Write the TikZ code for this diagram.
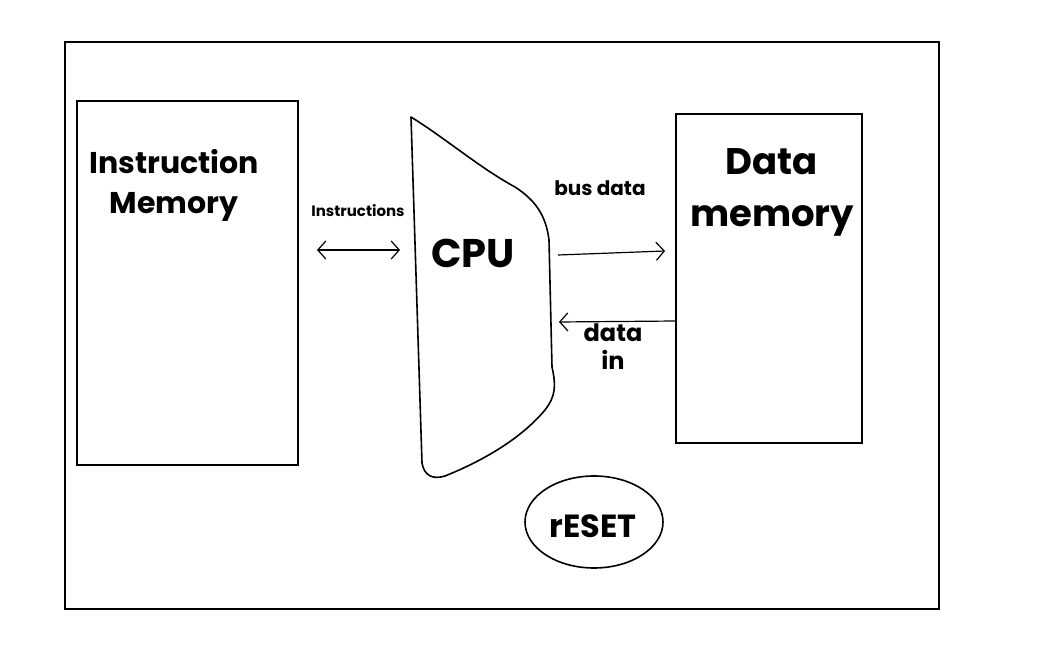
\documentclass[tikz,border=0pt]{standalone}
\usepackage{fontspec}
\setmainfont{Poppins}
\usetikzlibrary{arrows.meta, shapes.geometric}

\begin{document}
\begin{tikzpicture}[
  x=0.5pt,
  y=-0.5pt,
  barb/.tip={Straight Barb[length=4pt, width=9pt]},
  box/.style={draw=black, line width=0.8pt},
  sketch/.style={draw=black, line width=0.8pt, line join=round},
  biglabel/.style={font=\bfseries\fontsize{20}{26}\selectfont, align=center},
  memlabel/.style={font=\bfseries\fontsize{15}{20}\selectfont, align=center},
  buslabel/.style={font=\bfseries\fontsize{10}{12}\selectfont},
  tinylabel/.style={font=\bfseries\fontsize{7.5}{9}\selectfont},
  link/.style={line width=0.6pt, -barb},
  dlink/.style={line width=0.6pt, barb-barb}
]

  \useasboundingbox (0, 0) rectangle (1046, 663);

  % Outer frame
  \draw[box] (65, 42) rectangle (939, 609);

  % Memories
  \node[box, minimum width=110.5pt, minimum height=182pt] (imem) at (187.5, 283) {};
  \node[box, minimum width=93pt, minimum height=164.5pt] (dmem) at (769, 278.5) {};

  \node[memlabel] (imemlabel) at (174, 185) {Instruction\\Memory};
  \node[biglabel, font=\bfseries\fontsize{18.5}{26}\selectfont] (dmemlabel) at (772, 192) {Data\\memory};

  % CPU outline, hand drawn
  \draw[sketch] (411, 117) -- (422, 463)
    .. controls (424, 475) and (432, 480) .. (445, 476)
    .. controls (480, 462) and (520, 440) .. (545, 410)
    .. controls (556, 396) and (556, 385) .. (552, 367)
    -- (549, 240)
    .. controls (546, 215) and (535, 200) .. (515, 187)
    .. controls (480, 168) and (445, 138) .. cycle;
  \node[biglabel] (cpu) at (473, 253) {CPU};

  % Reset
  \node[box, ellipse, minimum width=69pt, minimum height=46pt] (reset) at (594, 522) {};
  \node[font=\bfseries\fontsize{16}{20}\selectfont] (resetlabel) at (593, 526) {rESET};

  % Buses
  \coordinate (instrL) at (317, 250);
  \coordinate (instrR) at (400, 250);
  \draw[dlink] (instrL) -- (instrR);
  \node[tinylabel] (instrlabel) at (358, 211) {Instructions};

  \coordinate (busL) at (558, 255);
  \coordinate (busR) at (665, 251);
  \draw[link] (busL) -- (busR);
  \node[buslabel] (buslabel) at (600, 188) {bus data};

  \coordinate (inR) at (676, 321);
  \coordinate (inL) at (559, 322);
  \draw[link] (inR) -- (inL);
  \node[buslabel, font=\bfseries\fontsize{12}{14}\selectfont, align=center] (inlabel) at (613, 347) {data\\in};

\end{tikzpicture}
\end{document}
